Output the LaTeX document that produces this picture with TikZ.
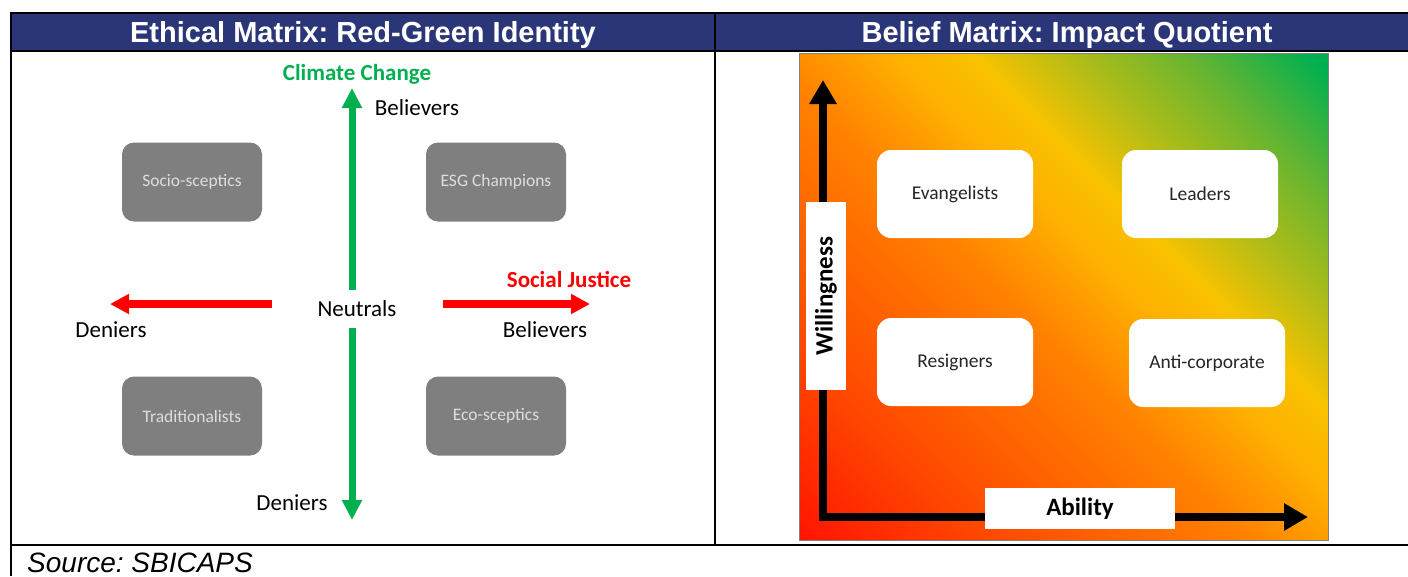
\documentclass[tikz,border=0pt]{standalone}
\usepackage{fontspec}
\setmainfont{Liberation Sans}
\newfontfamily\calfont{Carlito}
\usetikzlibrary{arrows.meta}
\frenchspacing

\definecolor{headnavy}{RGB}{43,54,120}
\definecolor{okgreen}{RGB}{0,176,80}
\definecolor{okred}{RGB}{255,0,0}
\definecolor{boxgray}{RGB}{127,127,127}
\definecolor{boxtext}{RGB}{222,222,222}
\definecolor{darktext}{RGB}{38,38,38}
\definecolor{hred}{RGB}{255,10,0}
\definecolor{hredorange}{RGB}{255,70,0}
\definecolor{horange}{RGB}{255,130,0}
\definecolor{hamber}{RGB}{255,175,0}
\definecolor{hyellow}{RGB}{248,194,0}
\definecolor{holive}{RGB}{170,188,25}
\definecolor{hlime}{RGB}{100,180,50}
\definecolor{hgreen}{RGB}{0,176,80}

% heat map running from red (low) through yellow to green (high);
% the corners of the rotated panel sit at about 12bp and 88bp
\pgfdeclarehorizontalshading{heatmap}{100bp}{%
  color(0bp)=(hred); color(12bp)=(hred); color(27.2bp)=(hredorange);
  color(46.2bp)=(horange); color(54.6bp)=(hamber); color(60.6bp)=(hyellow);
  color(68.2bp)=(holive); color(75.8bp)=(hlime);
  color(84.2bp)=(hgreen); color(100bp)=(hgreen)}

\tikzset{
  rule/.style={line width=2.5pt, black},
  headtext/.style={text=white, font=\fontsize{29}{33}\selectfont\bfseries},
  lbl/.style={font=\calfont\fontsize{23}{27}\selectfont, text=black, inner sep=0pt},
  greybox/.style={fill=boxgray, rounded corners=12pt, minimum width=140pt,
    minimum height=79pt, text=boxtext, font=\calfont\fontsize{17.5}{21}\selectfont},
  whitebox/.style={fill=white, rounded corners=14pt, minimum width=156pt,
    minimum height=88pt, text=darktext, font=\calfont\fontsize{19.5}{23}\selectfont},
  greenarrow/.style={okgreen, line width=7pt,
    -{Triangle[width=19pt,length=20pt]}},
  redarrow/.style={okred, line width=8pt,
    -{Triangle[width=19pt,length=19pt]}},
  axisarrow/.style={black, line width=8pt, line join=miter,
    {Triangle[width=26pt,length=24pt]}-{Triangle[width=26pt,length=24pt]}},
  axislabel/.style={fill=white, inner sep=0pt,
    font=\calfont\fontsize{25}{29}\selectfont\bfseries, text=black},
}

\begin{document}
\begin{tikzpicture}[x=1pt, y=-1pt]
\useasboundingbox[fill=white] (0,0) rectangle (1408,576);

% table frame and header row
\fill[headnavy] (11,13) rectangle (1408,51);
\draw[rule] (1408,13) -- (11,13) -- (11,576);
\draw[rule] (11,51) -- (1408,51);
\draw[rule] (11,545) -- (1408,545);
\draw[rule] (715,13) -- (715,545);

\node[headtext] (headleft) at (363,35) {Ethical Matrix: Red-Green Identity};
\node[headtext] (headright) at (1067,35) {Belief Matrix: Impact Quotient};

\node[anchor=base west, inner sep=0pt,
  font=\fontsize{28}{32}\selectfont\itshape] (source) at (27,572) {Source: SBICAPS};

% ---- ethical matrix ----
\node[greybox] (socio) at (192,182) {Socio-sceptics};
\node[greybox] (esg) at (496,182) {ESG Champions};
\node[greybox] (trad) at (192,416) {Traditionalists};
\node[greybox] (eco) at (496,416) {Eco-sceptics};

\node[lbl] (neutrals) at (357,309) {Neutrals};

\coordinate (gtopstart) at (352,290);
\coordinate (gtoptip) at (352,88);
\coordinate (gbotstart) at (352,328);
\coordinate (gbottip) at (352,520);
\coordinate (rleftstart) at (272,304);
\coordinate (rlefttip) at (110,304);
\coordinate (rrightstart) at (443,304);
\coordinate (rrighttip) at (590,304);

\draw[greenarrow] (gtopstart) -- (gtoptip);
\draw[greenarrow] (gbotstart) -- (gbottip);
\draw[redarrow] (rleftstart) -- (rlefttip);
\draw[redarrow] (rrightstart) -- (rrighttip);

\node[lbl, text=okgreen, font=\calfont\fontsize{23}{27}\selectfont\bfseries]
  (climate) at (357,74) {Climate Change};
\node[lbl] (cbeliev) at (417,108) {Believers};
\node[lbl] (cdeny) at (292,503) {Deniers};
\node[lbl, text=okred, font=\calfont\fontsize{23}{27}\selectfont\bfseries]
  (social) at (569,279) {Social Justice};
\node[lbl] (sdeny) at (111,330) {Deniers};
\node[lbl] (sbeliev) at (545,330) {Believers};

% ---- belief matrix ----
\node[rectangle, minimum width=529pt, minimum height=487pt, inner sep=0pt,
  shading=heatmap, shading angle=45, draw=gray, line width=0.8pt]
  (panel) at (1063.5,296.5) {};

\coordinate (ytip) at (823,80);
\coordinate (origin) at (823,517);
\coordinate (xtip) at (1308,517);
\draw[axisarrow] (ytip) -- (origin) -- (xtip);

\node[axislabel, rotate=90, minimum width=188pt, minimum height=40pt]
  (willing) at (826,296) {Willingness};
\node[axislabel, minimum width=190pt, minimum height=41pt]
  (ability) at (1080,508.5) {Ability};

\node[whitebox] (evang) at (955,194) {Evangelists};
\node[whitebox] (leaders) at (1200,194) {Leaders};
\node[whitebox] (resign) at (955,362) {Resigners};
\node[whitebox] (anticorp) at (1207,363) {Anti-corporate};
\end{tikzpicture}
\end{document}
